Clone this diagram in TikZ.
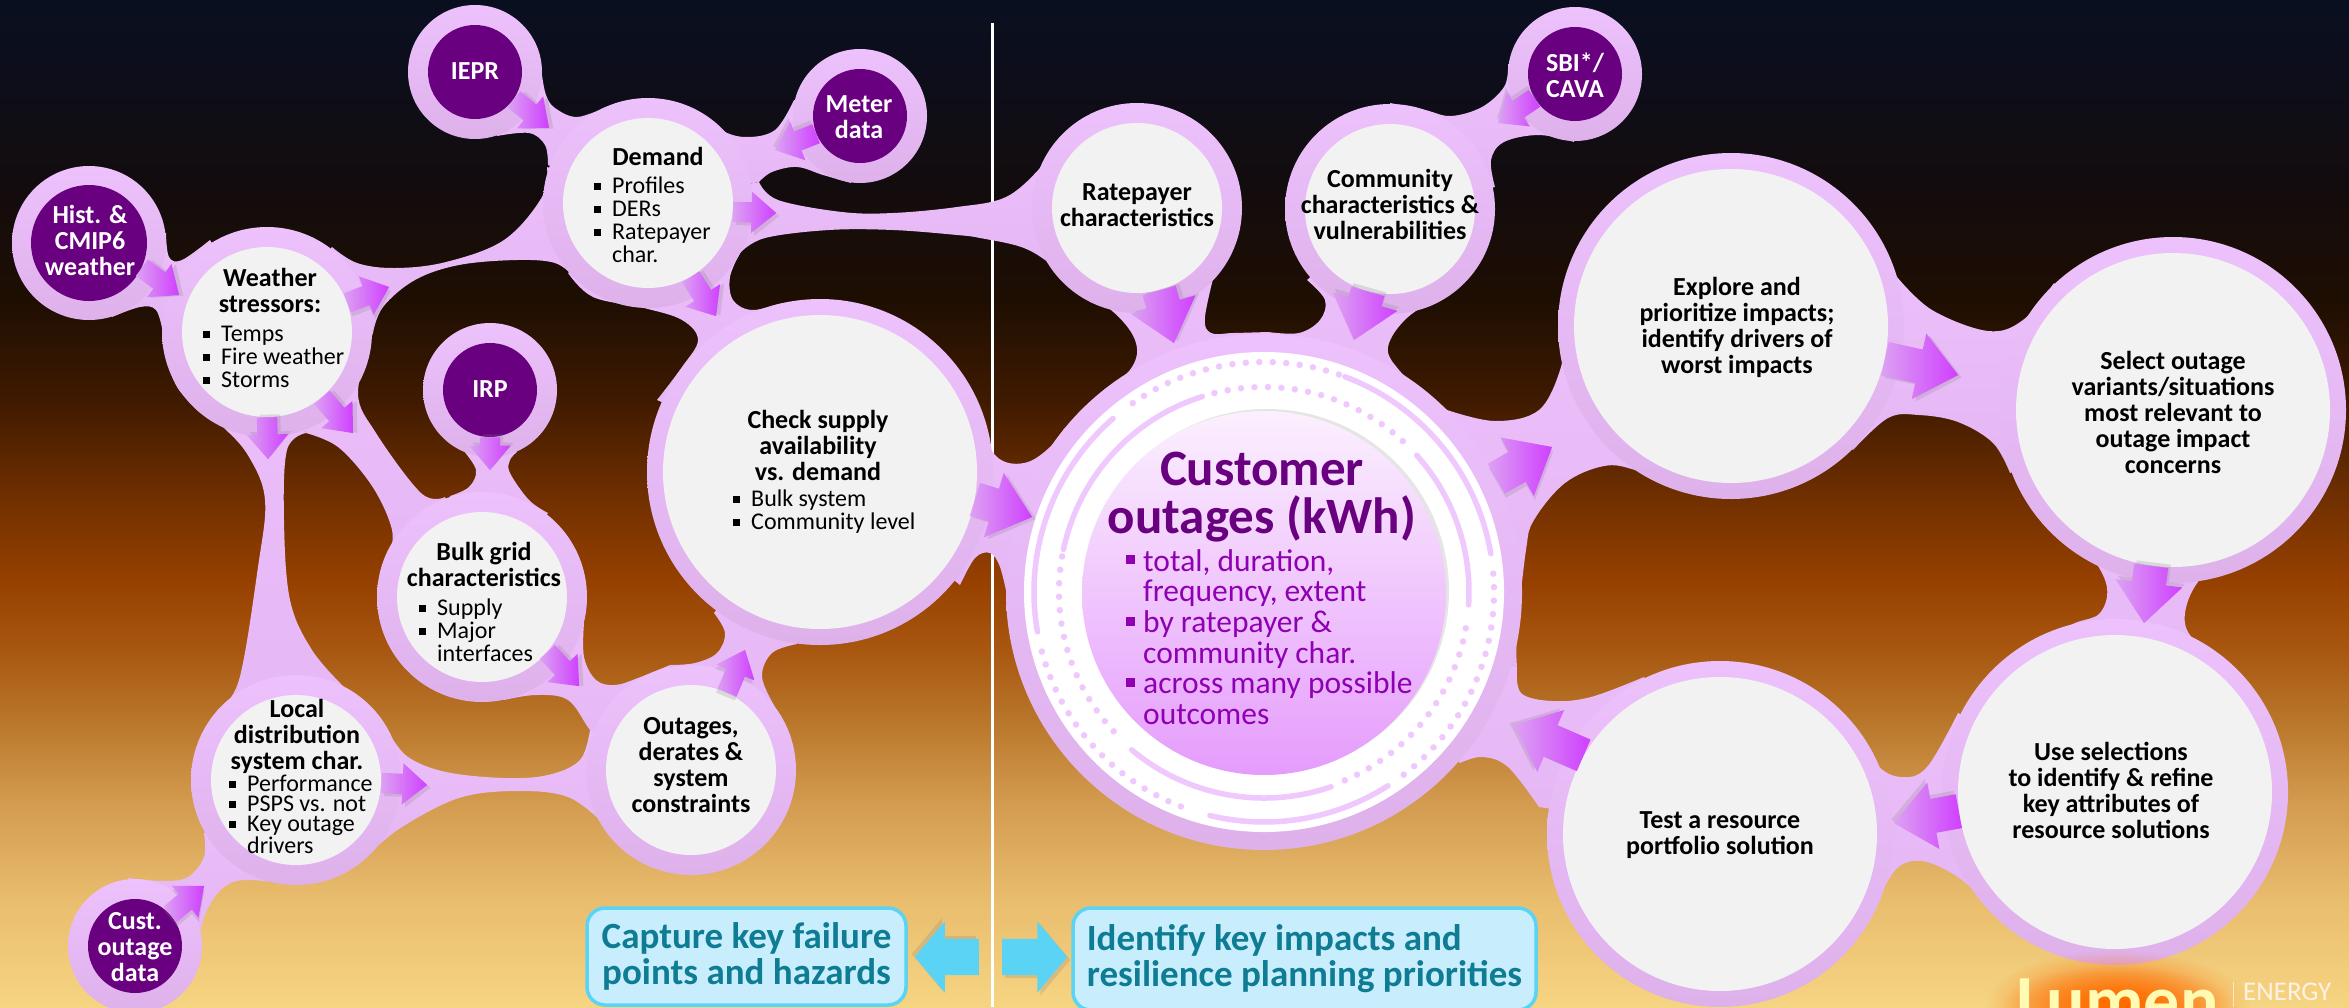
\documentclass[tikz,border=0pt]{standalone}
\usepackage{fontspec}
\setmainfont{Carlito}
\usetikzlibrary{shapes.arrows, shadows, fadings, calc}

\pgfdeclareverticalshading{skybg}{100bp}{rgb(0bp)=(0.965,0.835,0.51); rgb(25bp)=(0.965,0.835,0.51); rgb(30.3bp)=(0.914,0.741,0.431); rgb(35.3bp)=(0.824,0.604,0.306); rgb(39.25bp)=(0.725,0.463,0.165); rgb(42.75bp)=(0.659,0.341,0.063); rgb(46.2bp)=(0.588,0.251,0); rgb(50.15bp)=(0.447,0.188,0); rgb(55.15bp)=(0.247,0.102,0); rgb(60.1bp)=(0.118,0.055,0.008); rgb(65.05bp)=(0.078,0.047,0.047); rgb(72bp)=(0.047,0.055,0.11); rgb(75bp)=(0.039,0.059,0.125); rgb(100bp)=(0.039,0.059,0.125)}
\tikzfading[name=glowfade, inner color=transparent!0, outer color=transparent!100]

\definecolor{necktop}{HTML}{ECBFFB}
\definecolor{neckbot}{HTML}{E4B6F3}
\definecolor{halotop}{HTML}{EDC1FC}
\definecolor{halobot}{HTML}{DEB1EB}
\definecolor{bubblegrey}{HTML}{F2F2F2}
\definecolor{deeppurple}{HTML}{68007F}
\definecolor{listpurple}{HTML}{8F00B2}
\definecolor{ringpink}{HTML}{EFC8FD}
\definecolor{boxfill}{HTML}{C8EEFD}
\definecolor{boxline}{HTML}{5AD3F5}
\definecolor{boxtext}{HTML}{0E7C93}
\definecolor{arrowtail}{HTML}{DCA2F2}
\definecolor{arrowhead}{HTML}{CF3FFF}
\definecolor{coretop}{HTML}{FBF0FE}
\definecolor{coremid}{HTML}{F6D8FE}
\definecolor{corebot}{HTML}{E59CFC}

% square bullet hanging to the left of a list line
\newcommand{\sqdot}{\makebox[0pt][r]{\rule[3.5pt]{7pt}{7pt}\hspace{11pt}}}
\newcommand{\sqbig}{\makebox[0pt][r]{\rule[7pt]{9pt}{9pt}\hspace{8pt}}}
% pink web between two bubbles
\newcommand{\neck}[4]{\shade[top color=necktop, bottom color=neckbot] (c-#1) -- plot[smooth, tension=.6] coordinates {#2} -- (c-#3) -- plot[smooth, tension=.6] coordinates {#4} -- cycle;}
% block arrow from one point to another, its shadow kept down and to the right
\newcommand{\flow}[4]{\path let \p1=(#3), \p2=(#4), \n1={atan2(\y2-\y1,\x2-\x1)}, \n2={veclen(\x2-\x1,\y2-\y1)}, \n3={3*cos(\n1)-3*sin(\n1)}, \n4={-3*sin(\n1)-3*cos(\n1)} in node[#2, anchor=tail, rotate=\n1, minimum height=\n2, drop shadow={shadow xshift=\n3, shadow yshift=\n4, opacity=.22}] (#1) at (\p1) {};}
\newcommand{\ringline}[3]{\draw[ringsolid] (c-customer) ++(#2:#1) arc[start angle=#2, end angle=#3, radius=#1];}
\newcommand{\ringdots}[3]{\draw[ringdot] (c-customer) ++(#2:#1) arc[start angle=#2, end angle=#3, radius=#1];}

\begin{document}
\begin{tikzpicture}[x=1pt, y=-1pt]
    % Styles for bubbles, text and arrows
    \tikzstyle{halo} = [circle, inner sep=0, top color=halotop, bottom color=halobot]
    \tikzstyle{bubble} = [circle, inner sep=0, fill=bubblegrey]
    \tikzstyle{source} = [circle, inner sep=0, minimum size=94, fill=deeppurple]
    \tikzstyle{titletxt} = [align=center, inner sep=0, font=\fontsize{26}{26}\bfseries\selectfont]
    \tikzstyle{sourcetxt} = [titletxt, text=white]
    \tikzstyle{listtxt} = [align=left, anchor=west, inner sep=0, font=\fontsize{24}{23}\selectfont]
    \tikzstyle{flowsmall} = [single arrow, inner xsep=0, inner ysep=10, single arrow head extend=10.5, single arrow tip angle=80, single arrow head indent=0, left color=arrowtail, right color=arrowhead]
    \tikzstyle{flowbig} = [single arrow, inner xsep=0, inner ysep=17, single arrow head extend=16.5, single arrow tip angle=80, single arrow head indent=0, left color=arrowtail, right color=arrowhead]
    \tikzstyle{flowblue} = [single arrow, inner xsep=0, inner ysep=18, single arrow head extend=17.5, single arrow tip angle=100, fill=boxline]
    \tikzstyle{goalbox} = [rectangle, rounded corners=18, fill=boxfill, draw=boxline, line width=3.5, inner sep=0, text=boxtext, font=\fontsize{37}{36}\bfseries\selectfont]
    \tikzstyle{ringsolid} = [ringpink, line width=5.5, line cap=round]
    \tikzstyle{ringdot} = [ringpink, line width=6.5, line cap=round, dash pattern=on 0pt off 13.5pt]

    \useasboundingbox (0,0) rectangle (2349,1007);
    \clip (0,0) rectangle (2349,1007);

    % Background and centre line
    \shade[shading=skybg] (0,0) rectangle (2349,1007);
    \coordinate (linetop) at (992.5,23);
    \coordinate (linebot) at (992.5,1007);
    \draw[white, line width=2.5] (linetop) -- (linebot);

    % Centres
    \coordinate (c-hist) at (89,243);
    \coordinate (c-iepr) at (475,72);
    \coordinate (c-meter) at (860,116);
    \coordinate (c-irp) at (490,390);
    \coordinate (c-cust) at (135,946);
    \coordinate (c-sbi) at (1575,74);
    \coordinate (c-weather) at (267,332);
    \coordinate (c-demand) at (648,203);
    \coordinate (c-bulk) at (482,597);
    \coordinate (c-local) at (296,780);
    \coordinate (c-outages) at (691,770);
    \coordinate (c-check) at (820,472);
    \coordinate (c-ratepayer) at (1137,208);
    \coordinate (c-community) at (1390,209);
    \coordinate (c-customer) at (1264,592);
    \coordinate (c-explore) at (1731,326);
    \coordinate (c-select) at (2173,410);
    \coordinate (c-use) at (2115,792);
    \coordinate (c-test) at (1720,834);

    % Webs between the bubbles
    \neck{hist}{(166,233) (169,257) (182,260) (210,240)}{weather}{(163,333) (156,310) (140,307) (112,317)}
    \neck{iepr}{(542,75) (546,95) (555,108) (577,117) (606,107)}{demand}{(548,165) (545,145) (529,133) (497,136)}
    \neck{meter}{(794,100) (775,130) (746,137) (721,130) (695,110)}{demand}{(759,182) (772,172) (797,167) (823,175) (851,183)}
    \neck{weather}{(332,247) (357,263) (395,268) (446,262) (504,240) (542,197) (547,167)}{demand}{(574,277) (555,263) (517,260) (459,265) (415,280) (383,307) (373,333)}
    \neck{weather}{(163,343) (179,390) (223,427) (249,457) (265,500) (258,567) (239,680) (217,710)}{local}{(344,687) (312,650) (290,600) (284,520) (287,450) (306,433)}
    \neck{weather}{(306,433) (338,447) (370,483) (389,520) (392,545) (380,583)}{bulk}{(445,497) (421,493) (376,433) (358,393) (373,333)}
    \neck{irp}{(463,450) (476,470) (469,487) (450,496)}{bulk}{(548,513) (529,500) (510,473) (510,460) (517,452)}
    \neck{bulk}{(584,623) (584,657) (596,680) (615,685) (638,678) (670,665)}{outages}{(606,745) (590,730) (568,700) (536,695) (504,700)}
    \neck{outages}{(670,665) (695,663) (717,653) (725,633) (714,613)}{check}{(797,644) (772,653) (762,677) (775,707)}
    \neck{local}{(389,733) (408,757) (446,772) (504,778) (548,775) (580,760) (590,730)}{outages}{(603,823) (568,797) (517,791) (459,798) (402,827) (370,853)}
    \neck{local}{(300,885) (246,880) (223,888) (207,910) (201,930)}{cust}{(128,878) (163,881) (188,877) (204,857) (204,833)}
    \neck{demand}{(759,182) (778,200) (842,212) (893,213) (957,207) (1006,197) (1041,167) (1050,150)}{ratepayer}{(1067,283) (1054,267) (1024,248) (980,238) (957,235) (893,230) (829,230) (765,238) (740,253)}
    \neck{demand}{(740,253) (730,277) (733,300) (752,310) (784,303) (823,299)}{check}{(657,400) (682,367) (698,340) (682,320) (644,308) (593,297) (568,273)}
    \neck{check}{(975,420) (997,457) (1024,463) (1050,447) (1082,410)}{customer}{(1008,600) (1000,567) (990,553) (975,558) (960,585)}
    \neck{ratepayer}{(1067,283) (1111,310) (1135,340) (1132,367) (1100,397) (1063,430)}{customer}{(1268,332) (1233,333) (1211,333) (1205,317) (1216,267)}
    \neck{community}{(1307,280) (1325,300) (1320,320) (1299,333) (1268,332)}{customer}{(1447,410) (1425,393) (1399,370) (1388,347) (1408,317) (1451,290)}
    \neck{sbi}{(1508,67) (1504,87) (1482,107) (1451,116) (1425,110) (1390,103)}{community}{(1495,187) (1491,160) (1504,142) (1539,135) (1574,142)}
    \neck{customer}{(1447,410) (1495,421) (1539,410) (1561,367) (1561,340)}{explore}{(1678,488) (1635,470) (1604,466) (1565,483) (1534,520) (1526,550) (1517,633) (1517,667)}
    \neck{customer}{(1517,667) (1521,693) (1552,701) (1591,697) (1644,677)}{test}{(1539,807) (1508,767) (1482,757) (1460,763)}
    \neck{explore}{(1897,277) (1932,310) (1988,331) (2023,320) (2054,283)}{select}{(2010,473) (1993,443) (1958,422) (1919,415) (1888,418) (1853,450)}
    \neck{select}{(2028,500) (2080,543) (2106,583) (2100,613) (2071,625) (2040,650)}{use}{(2237,670) (2194,640) (2185,613) (2202,577) (2246,547) (2320,500)}
    \neck{use}{(1958,713) (1927,767) (1901,777) (1875,763) (1840,713)}{test}{(1871,910) (1884,887) (1901,865) (1927,862) (1962,880) (1993,910)}

    % Halos
    \node[halo, minimum size=154] (h-hist) at (c-hist) {};
    \node[halo, minimum size=134] (h-iepr) at (c-iepr) {};
    \node[halo, minimum size=134] (h-meter) at (c-meter) {};
    \node[halo, minimum size=134] (h-irp) at (c-irp) {};
    \node[halo, minimum size=134] (h-cust) at (c-cust) {};
    \node[halo, minimum size=134] (h-sbi) at (c-sbi) {};
    \node[halo, minimum size=210] (h-weather) at (c-weather) {};
    \node[halo, minimum size=210] (h-demand) at (c-demand) {};
    \node[halo, minimum size=210] (h-bulk) at (c-bulk) {};
    \node[halo, minimum size=210] (h-local) at (c-local) {};
    \node[halo, minimum size=210] (h-outages) at (c-outages) {};
    \node[halo, minimum size=210] (h-ratepayer) at (c-ratepayer) {};
    \node[halo, minimum size=210] (h-community) at (c-community) {};
    \node[halo, minimum size=346] (h-check) at (c-check) {};
    \node[halo, minimum size=346] (h-explore) at (c-explore) {};
    \node[halo, minimum size=346] (h-select) at (c-select) {};
    \node[halo, minimum size=346] (h-use) at (c-use) {};
    \node[halo, minimum size=346] (h-test) at (c-test) {};
    \node[halo, minimum size=516] (h-customer) at (c-customer) {};

    % Bubbles
    \node[source, minimum size=116] (hist) at (c-hist) {};
    \node[source] (iepr) at (c-iepr) {};
    \node[source] (meter) at (c-meter) {};
    \node[source] (irp) at (c-irp) {};
    \node[source] (cust) at (c-cust) {};
    \node[source] (sbi) at (c-sbi) {};
    \node[bubble, minimum size=170] (weather) at (c-weather) {};
    \node[bubble, minimum size=170] (demand) at (c-demand) {};
    \node[bubble, minimum size=170] (bulk) at (c-bulk) {};
    \node[bubble, minimum size=170] (local) at (c-local) {};
    \node[bubble, minimum size=170] (outages) at (c-outages) {};
    \node[bubble, minimum size=170] (ratepayer) at (c-ratepayer) {};
    \node[bubble, minimum size=170] (community) at (c-community) {};
    \node[bubble, minimum size=314] (check) at (c-check) {};
    \node[bubble, minimum size=314] (explore) at (c-explore) {};
    \node[bubble, minimum size=314] (select) at (c-select) {};
    \node[bubble, minimum size=314] (use) at (c-use) {};
    \node[bubble, minimum size=314] (test) at (c-test) {};

    % Customer rings
    \node[circle, inner sep=0, minimum size=480, fill=white] (customer) at (c-customer) {};
    \ringline{230}{-69.4}{-9.6}
    \ringline{205}{-41.8}{3.6}
    \ringline{230}{-131}{-190}
    \ringline{205}{-107.5}{-168}
    \ringline{206}{130}{71}
    \ringline{230}{103.6}{57.4}
    \ringdots{230}{-71}{-126}
    \ringdots{205}{-104}{-46}
    \ringdots{205}{-170}{-225}
    \ringdots{230}{165}{108}
    \ringdots{205}{66.8}{9}
    \ringdots{230}{52.6}{-5}
    \node[circle, inner sep=0, minimum size=364, top color=coretop, middle color=coremid, bottom color=corebot, drop shadow={shadow xshift=3, shadow yshift=-2, opacity=.2}] (customercore) at (1264,593) {};

    % Arrow tips
    \coordinate (t-iepr) at (549,128);
    \coordinate (t-meter) at (775,150);
    \coordinate (t-hist) at (179,295);
    \coordinate (t-wdemand) at (389,287);
    \coordinate (t-wlocal) at (268,459);
    \coordinate (t-wbulk) at (353,433);
    \coordinate (t-irp) at (490,470);
    \coordinate (t-drate) at (776,213);
    \coordinate (t-dcheck) at (716,316);
    \coordinate (t-boutages) at (579,686);
    \coordinate (t-ocheck) at (745,650);
    \coordinate (t-loutages) at (427,785);
    \coordinate (t-cust) at (204,886);
    \coordinate (t-check) at (1032,517);
    \coordinate (t-rate) at (1174,343);
    \coordinate (t-comm) at (1354,340);
    \coordinate (t-sbi) at (1498,123);
    \coordinate (t-cexplore) at (1552,447);
    \coordinate (t-eselect) at (1958,375);
    \coordinate (t-suse) at (2144,623);
    \coordinate (t-utest) at (1894,823);
    \coordinate (t-tcust) at (1514,725);

    % Arrows
    \flow{f-iepr}{flowsmall}{iepr.-35}{t-iepr}
    \flow{f-meter}{flowsmall}{meter.202}{t-meter}
    \flow{f-hist}{flowsmall}{hist.-25}{t-hist}
    \flow{f-wdemand}{flowsmall}{weather.20}{t-wdemand}
    \flow{f-wlocal}{flowsmall}{weather.-90}{t-wlocal}
    \flow{f-wbulk}{flowsmall}{weather.-50}{t-wbulk}
    \flow{f-irp}{flowsmall}{irp.-90}{t-irp}
    \flow{f-drate}{flowsmall}{demand.-6}{t-drate}
    \flow{f-dcheck}{flowsmall}{demand.-60}{t-dcheck}
    \flow{f-boutages}{flowsmall}{bulk.-40}{t-boutages}
    \flow{f-ocheck}{flowsmall}{outages.65}{t-ocheck}
    \flow{f-loutages}{flowsmall}{local.-2}{t-loutages}
    \flow{f-cust}{flowsmall}{cust.42}{t-cust}
    \flow{f-check}{flowbig}{check.-10}{t-check}
    \flow{f-rate}{flowbig}{ratepayer.-75.5}{t-rate}
    \flow{f-comm}{flowbig}{community.-105}{t-comm}
    \flow{f-sbi}{flowsmall}{sbi.-149}{t-sbi}
    \flow{f-cexplore}{flowbig}{h-customer.26}{t-cexplore}
    \flow{f-eselect}{flowbig}{explore.-12}{t-eselect}
    \flow{f-suse}{flowbig}{select.-98}{t-suse}
    \flow{f-utest}{flowbig}{use.-173.5}{t-utest}
    \flow{f-tcust}{flowbig}{test.150.8}{t-tcust}

    % Source labels
    \node[sourcetxt] (hist-t) at (90,240) {Hist. \&\\CMIP6\\weather};
    \node[sourcetxt] (iepr-t) at (475,71) {IEPR};
    \node[sourcetxt] (meter-t) at (859,117) {Meter\\data};
    \node[sourcetxt] (irp-t) at (490,389) {IRP};
    \node[sourcetxt] (cust-t) at (135,947) {Cust.\\outage\\data};
    \node[sourcetxt] (sbi-t) at (1575,75) {SBI*/\\CAVA};

    % Bubble labels
    \node[titletxt] (weather-t) at (270,290) {Weather\\stressors:};
    \node[listtxt] (weather-l) at (221,357) {\sqdot Temps\\\sqdot Fire weather\\\sqdot Storms};
    \node[titletxt] (demand-t) at (658,156) {Demand};
    \node[listtxt] (demand-l) at (612,220) {\sqdot Profiles\\\sqdot DERs\\\sqdot Ratepayer\\char.};
    \node[titletxt] (bulk-t) at (484,564) {Bulk grid\\characteristics};
    \node[listtxt] (bulk-l) at (437,630) {\sqdot Supply\\\sqdot Major\\interfaces};
    \node[titletxt] (local-t) at (297,736) {Local\\distribution\\system char.};
    \node[listtxt, font=\fontsize{24}{20.2}\selectfont] (local-l) at (247,814) {\sqdot Performance\\\sqdot PSPS vs. not\\\sqdot Key outage\\drivers};
    \node[titletxt] (outages-t) at (691,765) {Outages,\\derates \&\\system\\constraints};
    \node[titletxt] (check-t) at (818,445) {Check supply\\availability\\vs. demand};
    \node[listtxt] (check-l) at (751,512) {\sqdot Bulk system\\\sqdot Community level};
    \node[titletxt] (ratepayer-t) at (1137,205) {Ratepayer\\characteristics};
    \node[titletxt] (community-t) at (1390,204) {Community\\characteristics \&\\vulnerabilities};
    \node[titletxt] (explore-t) at (1737,327) {Explore and\\prioritize impacts;\\identify drivers of\\worst impacts};
    \node[titletxt] (select-t) at (2173,412) {Select outage\\variants/situations\\most relevant to\\outage impact\\concerns};
    \node[titletxt] (use-t) at (2111,790) {Use selections\\to identify \& refine\\key attributes of\\resource solutions};
    \node[titletxt] (test-t) at (1720,835) {Test a resource\\portfolio solution};

    % Customer labels
    \node[titletxt, text=deeppurple, font=\fontsize{51}{48}\bfseries\selectfont] (customer-t) at (1262,497) {Customer\\outages (kWh)};
    \node[listtxt, text=listpurple, font=\fontsize{31.5}{30.6}\selectfont] (customer-l) at (1143,637) {\sqbig total, duration,\\frequency, extent\\\sqbig by ratepayer \&\\community char.\\\sqbig across many possible\\outcomes};

    % Goal boxes and their arrows
    \node[goalbox, minimum width=319, minimum height=97, align=center] (capture) at (746.5,956.5) {Capture key failure\\points and hazards};
    \node[goalbox, minimum width=463, minimum height=102, align=left] (identify) at (1304.5,959) {Identify key impacts and\\resilience planning priorities};
    \coordinate (b-left) at (979,957);
    \coordinate (b-lefttip) at (915,957);
    \coordinate (b-right) at (1002,957);
    \coordinate (b-righttip) at (1067,957);
    \flow{f-capture}{flowblue}{b-left}{b-lefttip}
    \flow{f-identify}{flowblue}{b-right}{b-righttip}

    % Logo
    \fill[orange!85!red, path fading=glowfade] (1985,950) rectangle (2250,1060);
    \fill[orange!85!red, path fading=glowfade] (2000,965) rectangle (2235,1050);
    \node[anchor=base west, inner sep=0, text=yellow!30!white, font=\fontsize{72}{72}\bfseries\selectfont] (lumen) at (2016,1025) {Lumen};
    \coordinate (sep-top) at (2233,982);
    \coordinate (sep-bot) at (2233,1007);
    \draw[white!80!orange, line width=1] (sep-top) -- (sep-bot);
    \node[anchor=base west, inner sep=0, text=white!90!orange, font=\fontsize{27}{27}\selectfont] (energy) at (2243,1000) {ENERGY};
\end{tikzpicture}
\end{document}
